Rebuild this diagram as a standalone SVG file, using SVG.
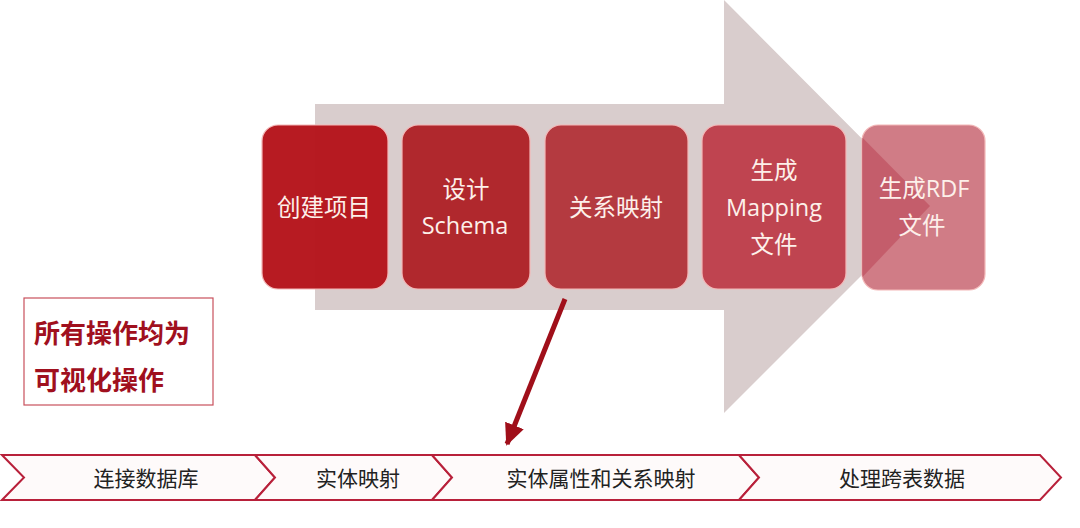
<svg xmlns="http://www.w3.org/2000/svg" width="1080" height="528" viewBox="0 0 1080 528">
  <defs>
    <style>
      .box { stroke: #f3b8b8; stroke-width: 1.2; }
      .bt { font-family: "Open Sans", "Noto Sans CJK SC", sans-serif; font-size: 23.5px; fill: #fdf0ea; text-anchor: middle; dominant-baseline: central; }
      .chev { fill: #fefafa; stroke: #b8203a; stroke-width: 2; stroke-linejoin: miter; }
      .ct { font-family: "Noto Sans CJK SC", sans-serif; font-size: 21px; fill: #222; text-anchor: middle; dominant-baseline: central; }
      .note { font-family: "Noto Sans CJK SC", sans-serif; font-size: 26px; font-weight: bold; fill: #a0101e; }
    </style>
    <marker id="ah" markerUnits="userSpaceOnUse" markerWidth="24" markerHeight="24" refX="20" refY="10" orient="auto">
      <polygon points="0,0 22,10 0,20" fill="#a00f1a"/>
    </marker>
    <clipPath id="b5clip">
      <rect x="862" y="125" width="123" height="165" rx="16"/>
    </clipPath>
  </defs>

  <g id="big-arrow">
    <polygon points="315,104 724,104 724,0 930,207 724,413 724,310 315,310" fill="#d9cdcd"/>
  </g>

  <g id="node-1">
    <rect class="box" x="262" y="125" width="126" height="164" rx="16" fill="#b5141b" fill-opacity="0.97"/>
    <text class="bt" x="324" y="207">创建项目</text>
  </g>
  <g id="node-2">
    <rect class="box" x="402" y="125" width="128" height="164" rx="16" fill="#b0282d"/>
    <text class="bt" x="466" y="189">设计</text>
    <text class="bt" x="465" y="225">Schema</text>
  </g>
  <g id="node-3">
    <rect class="box" x="545" y="125" width="143" height="164" rx="16" fill="#b43a40"/>
    <text class="bt" x="616" y="207">关系映射</text>
  </g>
  <g id="node-4">
    <rect class="box" x="702" y="125" width="144" height="164" rx="16" fill="#bf4450"/>
    <text class="bt" x="774" y="170">生成</text>
    <text class="bt" x="774" y="207">Mapping</text>
    <text class="bt" x="774" y="244">文件</text>
  </g>
  <g id="node-5">
    <rect class="box" x="862" y="125" width="123" height="165" rx="16" fill="#d07c86"/>
    <polygon points="850,125 930,206 850,290" fill="#bc4a5a" fill-opacity="0.6" clip-path="url(#b5clip)"/>
    <text class="bt" x="924" y="188">生成RDF</text>
    <text class="bt" x="922" y="225">文件</text>
  </g>

  <g id="note">
    <rect x="24" y="298" width="189" height="107" fill="#ffffff" stroke="#c8505c" stroke-width="1.2"/>
    <text class="note" x="34" y="343">所有操作均为</text>
    <text class="note" x="34" y="390">可视化操作</text>
  </g>

  <g id="timeline">
    <g id="step-1">
      <polygon class="chev" points="2,455 255,455 275,477.5 255,500 2,500 24,477.5"/>
      <text class="ct" x="146" y="477">连接数据库</text>
    </g>
    <g id="step-2">
      <polygon class="chev" points="255,455 432,455 452,477.5 432,500 255,500 275,477.5"/>
      <text class="ct" x="358" y="477">实体映射</text>
    </g>
    <g id="step-3">
      <polygon class="chev" points="432,455 739,455 759,477.5 739,500 432,500 452,477.5"/>
      <text class="ct" x="601" y="477">实体属性和关系映射</text>
    </g>
    <g id="step-4">
      <polygon class="chev" points="739,455 1040,455 1061,477.5 1040,500 739,500 759,477.5"/>
      <text class="ct" x="902" y="477">处理跨表数据</text>
    </g>
  </g>

  <g id="connectors">
    <line x1="565" y1="299" x2="507" y2="444" stroke="#a00f1a" stroke-width="5" marker-end="url(#ah)"/>
  </g>
</svg>
